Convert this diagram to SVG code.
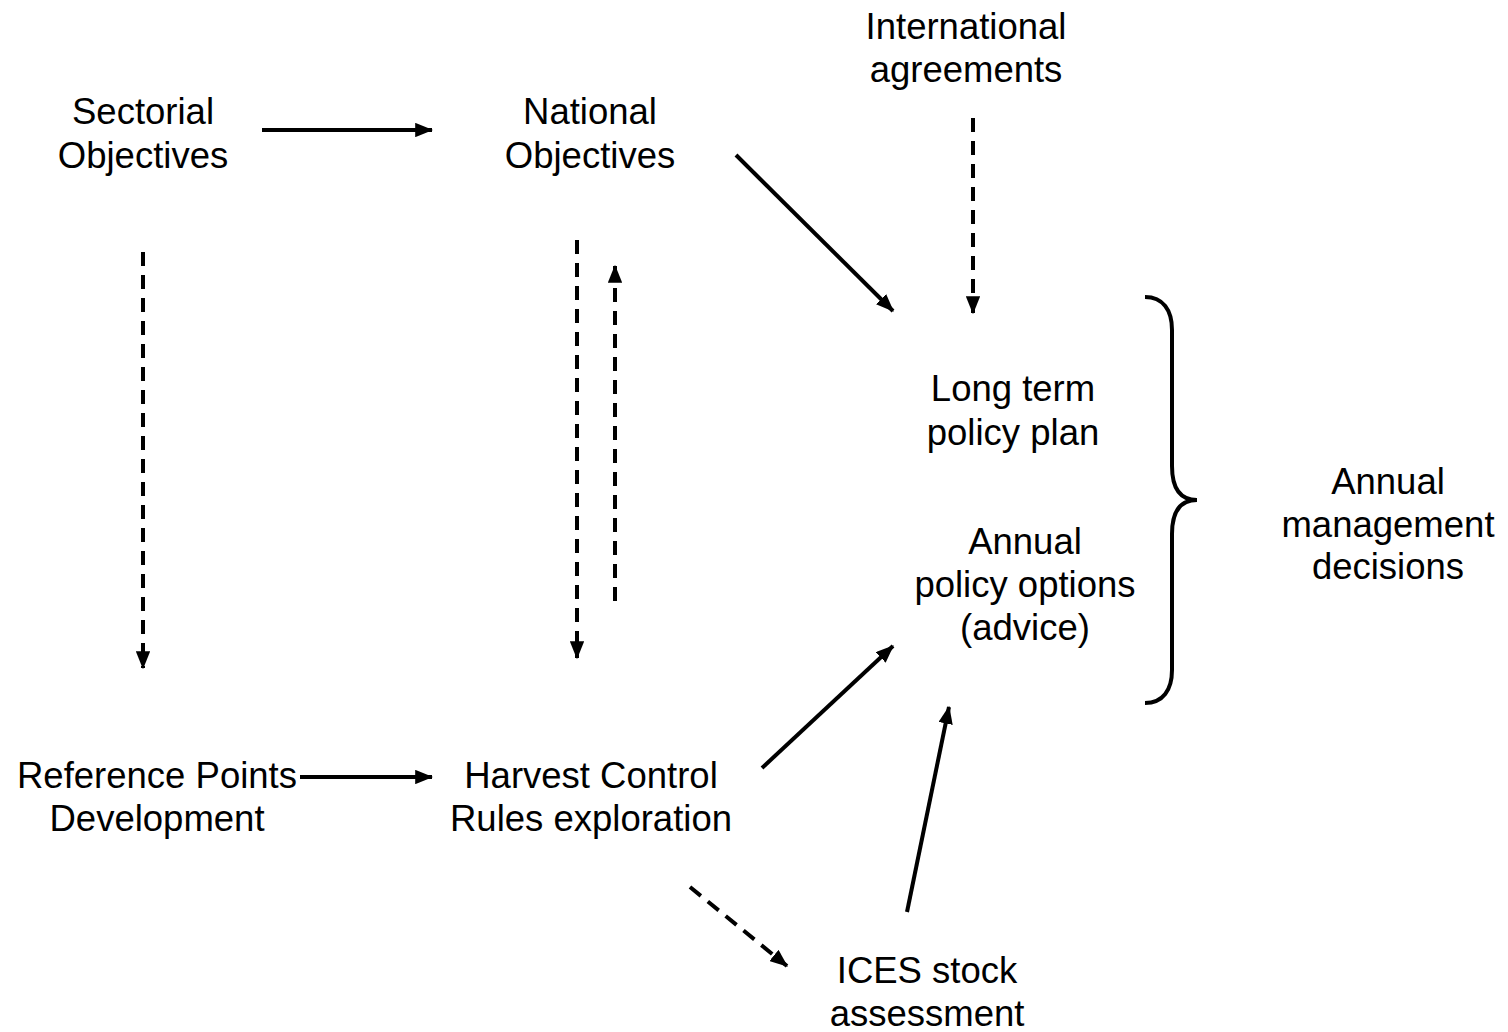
<svg xmlns="http://www.w3.org/2000/svg" width="1508" height="1032" viewBox="0 0 1508 1032">
<style>
text{font-family:"Liberation Sans",Arial,sans-serif;font-size:36.5px;fill:#000;text-anchor:middle}
.c{stroke:#000;stroke-width:4;fill:none}
.d{stroke-dasharray:14 9}
</style>
<defs>
<marker id="ah" markerWidth="4.5" markerHeight="3.6" refX="4.2" refY="1.8" orient="auto" markerUnits="strokeWidth">
<path d="M0,0 L4.5,1.8 L0,3.6 Z" fill="#000"/>
</marker>
</defs>
<rect width="1508" height="1032" fill="#fff"/>
<g id="sectorial"><text x="143" y="124">Sectorial</text><text x="143" y="168">Objectives</text></g>
<g id="national"><text x="590" y="124">National</text><text x="590" y="168">Objectives</text></g>
<g id="international"><text x="966" y="39">International</text><text x="966" y="82">agreements</text></g>
<g id="longterm"><text x="1013" y="401">Long term</text><text x="1013" y="445">policy plan</text></g>
<g id="annualpolicy"><text x="1025" y="554">Annual</text><text x="1025" y="597">policy options</text><text x="1025" y="640">(advice)</text></g>
<g id="annualmgmt"><text x="1388" y="494">Annual</text><text x="1388" y="537">management</text><text x="1388" y="579">decisions</text></g>
<g id="refpoints"><text x="157" y="788">Reference Points</text><text x="157" y="831">Development</text></g>
<g id="hcr"><text x="591" y="788">Harvest Control</text><text x="591" y="831">Rules exploration</text></g>
<g id="ices"><text x="927" y="983">ICES stock</text><text x="927" y="1026">assessment</text></g>
<g id="brace"><path class="c" d="M1145,297 C1163,297 1172,310 1172,330 L1172,466 C1172,488 1180,500 1197,500 C1180,500 1172,512 1172,534 L1172,670 C1172,690 1163,703 1145,703" stroke-width="3"/></g>
<g id="connectors">
<line class="c" x1="262" y1="130" x2="432" y2="130" marker-end="url(#ah)"/>
<line class="c d" x1="143" y1="252" x2="143" y2="668" marker-end="url(#ah)"/>
<line class="c d" x1="577" y1="240" x2="577" y2="658" marker-end="url(#ah)"/>
<line class="c d" x1="615" y1="601" x2="615" y2="266" marker-end="url(#ah)"/>
<line class="c" x1="736" y1="155" x2="893" y2="311" marker-end="url(#ah)"/>
<line class="c d" x1="973" y1="118" x2="973" y2="313" marker-end="url(#ah)"/>
<line class="c" x1="300" y1="777" x2="432" y2="777" marker-end="url(#ah)"/>
<line class="c" x1="762" y1="768" x2="893" y2="646" marker-end="url(#ah)"/>
<line class="c d" x1="690" y1="887" x2="787" y2="966" marker-end="url(#ah)"/>
<line class="c" x1="907" y1="912" x2="949" y2="707" marker-end="url(#ah)"/>
</g>
</svg>
